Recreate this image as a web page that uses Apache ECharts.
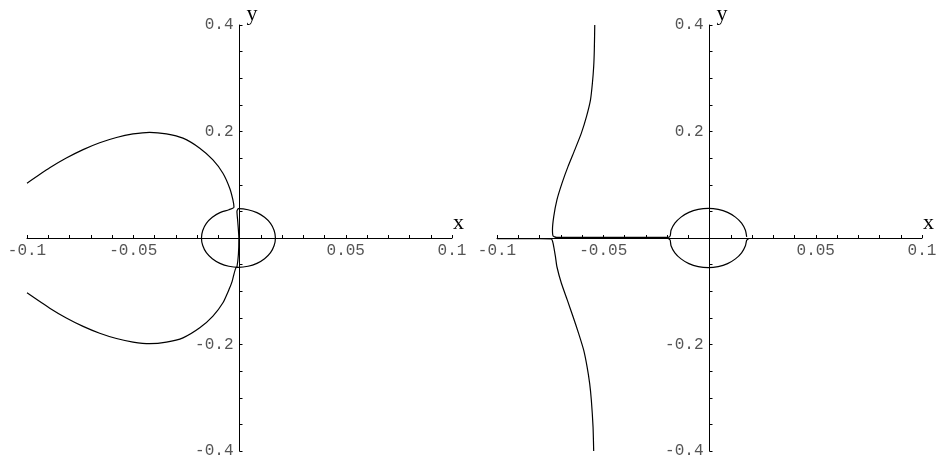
<!DOCTYPE html>
<html>
<head>
<meta charset="utf-8">
<script src="https://cdn.jsdelivr.net/npm/echarts@6/dist/echarts.min.js"></script>
<style>
  html, body { margin: 0; padding: 0; background: #fff; }
  #chart { width: 943px; height: 465px; }
</style>
</head>
<body>
<div id="chart"></div>
<script>
// Tick labels
const xTickLabels = [-0.1, -0.05, 0.05, 0.1];
const yTickLabels = [-0.4, -0.2, 0.2, 0.4];

// Left panel: upper lobe coming in from x = -0.1 down to the loop
const leftUpperLobe = [
  [-0.1, 0.103], [-0.0893, 0.1319], [-0.0815, 0.1502], [-0.0736, 0.166],
  [-0.0658, 0.1789], [-0.0579, 0.1888], [-0.0501, 0.1954], [-0.0423, 0.1985],
  [-0.0344, 0.1956], [-0.0266, 0.1875], [-0.0187, 0.1687], [-0.0125, 0.1467],
  [-0.0078, 0.1217], [-0.0046, 0.0935], [-0.0031, 0.0715], [-0.0026, 0.0577]
];
// Left panel: closed loop around the origin
const leftLoop = [
  [-0.005, 0.0531], [-0.0092, 0.0476], [-0.0128, 0.0389], [-0.0156, 0.0275],
  [-0.0173, 0.0142], [-0.0179, 0], [-0.0173, -0.0142], [-0.0156, -0.0275],
  [-0.0128, -0.0389], [-0.0092, -0.0476], [-0.005, -0.0531], [-0.0005, -0.055],
  [0.004, -0.0531], [0.0082, -0.0476], [0.0118, -0.0389], [0.0146, -0.0275],
  [0.0163, -0.0142], [0.0169, 0], [0.0163, 0.0142], [0.0146, 0.0275],
  [0.0118, 0.0389], [0.0082, 0.0476], [0.004, 0.0531], [-0.0005, 0.055]
];
// Left panel: strand along the y axis
const leftStrand = [
  [-0.0012, 0.05], [-0.0008, 0.03], [-0.0003, 0], [-0.0005, -0.03], [-0.0012, -0.054]
];
// Left panel: lower lobe going back out to x = -0.1
const leftLowerLobe = [
  [-0.0018, -0.057], [-0.0026, -0.0677], [-0.0035, -0.082], [-0.0048, -0.0955],
  [-0.0078, -0.1217], [-0.0125, -0.1467], [-0.0187, -0.1687], [-0.0266, -0.1875],
  [-0.0344, -0.1956], [-0.0423, -0.1985], [-0.0501, -0.1954], [-0.0579, -0.1888],
  [-0.0658, -0.1789], [-0.0736, -0.166], [-0.0815, -0.1502], [-0.0893, -0.1319],
  [-0.1, -0.103]
];

// Right panel: upper branch, then along the axis into the upper half of the loop
const rightUpperBranch = [
  [-0.054, 0.4], [-0.0542, 0.3536], [-0.0545, 0.322], [-0.0551, 0.291],
  [-0.056, 0.2595], [-0.0579, 0.228], [-0.0603, 0.197], [-0.0634, 0.1655],
  [-0.0666, 0.134], [-0.0694, 0.103], [-0.0718, 0.0715], [-0.0733, 0.04],
  [-0.0739, 0.015], [-0.0736, 0.0038], [-0.072, 0.0012], [-0.05, 0.0012],
  [-0.03, 0.0012], [-0.0195, 0.0012]
];
const rightLoopUpper = [
  [-0.0185, 0.004], [-0.0181, 0.0144], [-0.0163, 0.0278], [-0.0134, 0.0392],
  [-0.0097, 0.0481], [-0.0053, 0.0536], [-0.0006, 0.0555], [0.0041, 0.0536],
  [0.0085, 0.0481], [0.0122, 0.0392], [0.0151, 0.0278], [0.0169, 0.0144],
  [0.0175, 0.002]
];
const rightLoopLower = [
  [-0.0193, -0.0008], [-0.0185, -0.004], [-0.0181, -0.0144], [-0.0163, -0.0278],
  [-0.0134, -0.0392], [-0.0097, -0.0481], [-0.0053, -0.0536], [-0.0006, -0.0555],
  [0.0041, -0.0536], [0.0085, -0.0481], [0.0122, -0.0392], [0.0151, -0.0278],
  [0.0169, -0.0144], [0.0175, -0.004], [0.0185, -0.0008]
];
// Right panel: lower branch, coming in along the axis from x = -0.1
const rightLowerBranch = [
  [-0.1, -0.0012], [-0.08, -0.0012], [-0.0745, -0.0015], [-0.0736, -0.01],
  [-0.0725, -0.035], [-0.0718, -0.054], [-0.0697, -0.085], [-0.0669, -0.1166],
  [-0.0642, -0.148], [-0.0616, -0.179], [-0.0592, -0.2106], [-0.0576, -0.242],
  [-0.0564, -0.273], [-0.0556, -0.3047], [-0.0548, -0.355], [-0.0545, -0.4]
];

const GRID_W = 425;
const GRID_H = 426;

const tickFont = { fontFamily: 'Liberation Mono', fontSize: 16, color: '#555' };
const nameFont = { fontFamily: 'Liberation Serif', fontSize: 22, color: '#000' };

function fmt(list) {
  return function (v) {
    for (const t of list) if (Math.abs(v - t) < 1e-9) return String(t);
    return '';
  };
}

// Axes cross at the origin: shift each axis from its grid edge to the middle.
function makeX(gridIndex) {
  return {
    type: 'value', gridIndex, min: -0.1, max: 0.1, interval: 0.05,
    position: 'bottom', offset: -GRID_H / 2,
    name: 'x', nameLocation: 'end', nameGap: 1,
    nameTextStyle: Object.assign({ align: 'left', verticalAlign: 'bottom', padding: [0, 0, 4, 0] }, nameFont),
    axisLine: { onZero: false, lineStyle: { color: '#000', width: 1 } },
    axisTick: { show: true, inside: true, length: 3, lineStyle: { color: '#000' } },
    minorTick: { show: true, splitNumber: 5, length: 3, lineStyle: { color: '#000' } },
    axisLabel: Object.assign({ margin: 5, formatter: fmt(xTickLabels), showMinLabel: true, showMaxLabel: true, hideOverlap: false }, tickFont),
    splitLine: { show: false }, minorSplitLine: { show: false }
  };
}
function makeY(gridIndex) {
  return {
    type: 'value', gridIndex, min: -0.4, max: 0.4, interval: 0.2,
    position: 'left', offset: -GRID_W / 2,
    name: 'y', nameLocation: 'end', nameGap: 0,
    nameTextStyle: Object.assign({ align: 'left', verticalAlign: 'bottom', padding: [0, 0, 0, 7] }, nameFont),
    axisLine: { onZero: false, lineStyle: { color: '#000', width: 1 } },
    axisTick: { show: true, inside: true, length: 3, lineStyle: { color: '#000' } },
    minorTick: { show: true, splitNumber: 4, length: 3, lineStyle: { color: '#000' } },
    axisLabel: Object.assign({ margin: 6, formatter: fmt(yTickLabels), showMinLabel: true, showMaxLabel: true, hideOverlap: false }, tickFont),
    splitLine: { show: false }, minorSplitLine: { show: false }
  };
}
function curve(data, idx) {
  return {
    type: 'line', xAxisIndex: idx, yAxisIndex: idx, data,
    showSymbol: false, symbol: 'none', clip: true, silent: true, smooth: 0.2,
    lineStyle: { color: '#000', width: 1.2 }
  };
}

const chart = echarts.init(document.getElementById('chart'), null, { renderer: 'canvas' });
chart.setOption({
  animation: false,
  backgroundColor: '#fff',
  grid: [
    { left: 27, top: 25, width: GRID_W, height: GRID_H, outerBoundsMode: 'none', containLabel: false },
    { left: 497, top: 25, width: GRID_W, height: GRID_H, outerBoundsMode: 'none', containLabel: false }
  ],
  xAxis: [makeX(0), makeX(1)],
  yAxis: [makeY(0), makeY(1)],
  series: [
    curve(leftUpperLobe.concat(leftLoop, leftStrand, leftLowerLobe), 0),
    curve(rightUpperBranch.concat(rightLoopUpper), 1),
    curve(rightLoopLower, 1),
    curve(rightLowerBranch, 1)
  ]
});
</script>
</body>
</html>
